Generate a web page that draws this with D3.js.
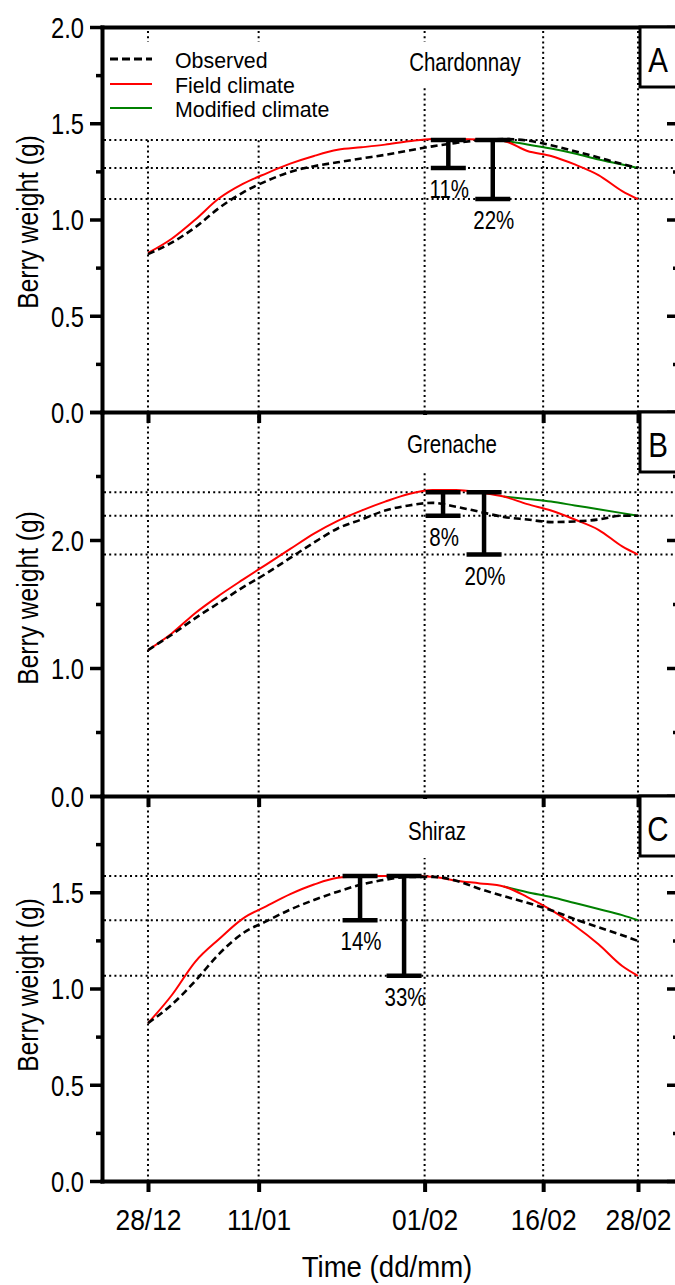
<!DOCTYPE html>
<html><head><meta charset="utf-8">
<script src="https://cdn.jsdelivr.net/npm/d3@7"></script>
<style>
body{margin:0;background:#fff}
svg{display:block}
text{font-family:"Liberation Sans",Arial,Helvetica,sans-serif;fill:#000}
</style>
</head><body><div id="chart"></div>
<script>
// ---------------- DATA ----------------
const dates = ["28/12","31/12","03/01","06/01","09/01","12/01","15/01","18/01","21/01","24/01","27/01","30/01",
               "02/02","05/02","08/02","11/02","14/02","17/02","20/02","23/02","26/02","28/02"];
const tickDates = ["28/12","11/01","01/02","16/02","28/02"];
const xDomain = ["22/12 04:20","05/03 04:30"];
const seriesNames = ["Observed","Field climate","Modified climate"];

// Chardonnay (A)
const chardObserved = [0.82,0.88,0.96,1.06,1.14,1.20,1.247,1.277,1.297,1.317,1.336,1.358,1.38,1.398,1.412,1.418,1.41,1.386,1.355,1.322,1.288,1.268];
const chardField    = [0.826,0.90,1.0,1.11,1.185,1.24,1.29,1.33,1.362,1.375,1.389,1.406,1.418,1.418,1.416,1.408,1.356,1.33,1.286,1.231,1.148,1.106];
const chardModified = [null,null,null,null,null,null,null,null,null,null,null,null,null,null,null,1.408,1.39,1.369,1.343,1.312,1.286,1.268];
const chardRefs = [1.413,1.268,1.106];
const chardBarDates = ["04/02 00:00","09/02 15:00"];
const chardBarLow = [1.268,1.106];
const chardBarHigh = [1.413,1.413];
const chardBarLabels = ["11%","22%"];

// Grenache (B)
const grenObserved = [1.14,1.26,1.39,1.51,1.63,1.74,1.86,1.98,2.09,2.16,2.23,2.27,2.29,2.26,2.22,2.18,2.16,2.14,2.145,2.16,2.19,2.19];
const grenField    = [1.14,1.27,1.43,1.566,1.69,1.81,1.93,2.05,2.15,2.23,2.30,2.36,2.39,2.39,2.37,2.34,2.28,2.23,2.16,2.08,1.95,1.886];
const grenModified = [null,null,null,null,null,null,null,null,null,null,null,null,null,null,null,2.34,2.32,2.30,2.27,2.24,2.21,2.19];
const grenRefs = [2.374,2.19,1.886];
const grenBarDates = ["03/02 08:00","08/02 12:30"];
const grenBarLow = [2.19,1.886];
const grenBarHigh = [2.374,2.374];
const grenBarLabels = ["8%","20%"];

// Shiraz (C)
const shirObserved = [0.82,0.916,1.04,1.18,1.287,1.35,1.41,1.46,1.503,1.54,1.565,1.579,1.58,1.56,1.517,1.48,1.445,1.407,1.36,1.318,1.277,1.247];
const shirField    = [0.82,0.965,1.14,1.257,1.363,1.428,1.49,1.54,1.575,1.583,1.585,1.585,1.58,1.56,1.546,1.53,1.475,1.408,1.326,1.23,1.117,1.066];
const shirModified = [null,null,null,null,null,null,null,null,null,null,null,null,null,null,null,1.53,1.50,1.475,1.444,1.413,1.381,1.355];
const shirRefs = [1.585,1.355,1.066];
const shirBarDates = ["23/01 20:00","29/01 09:40"];
const shirBarLow = [1.355,1.066];
const shirBarHigh = [1.585,1.585];
const shirBarLabels = ["14%","33%"];

// Y ticks
const ticksA = [0,0.5,1,1.5,2], minorA = [0.25,0.75,1.25,1.75];
const ticksB = [0,1,2,3],       minorB = [0.5,1.5,2.5];
const ticksC = [0,0.5,1,1.5,2], minorC = [0.25,0.75,1.25,1.75];
const labelsA = [0,0.5,1,1.5,2], labelsB = [0,1,2], labelsC = [0,0.5,1,1.5];

// ---------------- HELPERS ----------------
function parseDT(s){
  const [dm, hm] = s.split(" ");
  const [d,m] = dm.split("/").map(Number);
  let h=0, mi=0;
  if (hm) [h,mi] = hm.split(":").map(Number);
  return new Date(Date.UTC(m===12?2010:2011, m-1, d, h, mi));
}
const SX = 0.82;
function txt(g, x, y, s, size, anchor, sx, rot){
  sx = sx || SX;
  return g.append("text")
    .attr("transform", `translate(${x},${y})${rot?` rotate(${rot})`:""} scale(${sx},1)`)
    .attr("text-anchor", anchor || "start")
    .style("font-size", size+"px")
    .text(s);
}

// ---------------- LAYOUT ----------------
const W = 675, H = 1285;
const LEFT = 102, RIGHT = 679;
const svg = d3.select("#chart").append("svg").attr("width", W).attr("height", H);

const x = d3.scaleUtc().domain(xDomain.map(parseDT)).range([LEFT, RIGHT]);
const dateObjs = dates.map(parseDT);
const tickObjs = tickDates.map(parseDT);

const panels = [
  {name:"Chardonnay", letter:"A", top:27, bottom:412, max:2, ticks:ticksA, minor:minorA, labels:labelsA,
   obs:chardObserved, field:chardField, mod:chardModified, refs:chardRefs,
   bd:chardBarDates, bl:chardBarLow, bh:chardBarHigh, blab:chardBarLabels,
   nameX:465, nameY:71, nameBox:[398,42,137,46], titleY:222, legend:true},
  {name:"Grenache", letter:"B", top:412, bottom:796, max:3, ticks:ticksB, minor:minorB, labels:labelsB,
   obs:grenObserved, field:grenField, mod:grenModified, refs:grenRefs,
   bd:grenBarDates, bl:grenBarLow, bh:grenBarHigh, blab:grenBarLabels,
   nameX:452, nameY:453, nameBox:[395,415,120,56], titleY:598, legend:false},
  {name:"Shiraz", letter:"C", top:796, bottom:1181, max:2, ticks:ticksC, minor:minorC, labels:labelsC,
   obs:shirObserved, field:shirField, mod:shirModified, refs:shirRefs,
   bd:shirBarDates, bl:shirBarLow, bh:shirBarHigh, blab:shirBarLabels,
   nameX:437, nameY:840, nameBox:[385,799,105,59], titleY:985, legend:false}
];

const dotted = "2,3.2";

panels.forEach((p, pi) => {
  const y = d3.scaleLinear().domain([0, p.max]).range([p.bottom, p.top]);
  const g = svg.append("g");

  // horizontal reference lines
  g.selectAll(".href").data(p.refs).join("line")
    .attr("x1", LEFT+2).attr("x2", RIGHT)
    .attr("y1", d => y(d)).attr("y2", d => y(d))
    .attr("stroke", "#000").attr("stroke-width", 2).attr("stroke-dasharray", dotted);

  // vertical date grid lines
  g.selectAll(".vref").data(tickObjs).join("line")
    .attr("x1", d => x(d)).attr("x2", d => x(d))
    .attr("y1", p.top + 4).attr("y2", p.bottom)
    .attr("stroke", "#000").attr("stroke-width", 2).attr("stroke-dasharray", dotted);

  // white boxes behind legend & name
  if (p.legend) g.append("rect").attr("x", LEFT+2).attr("y", 42).attr("width", 270).attr("height", 96).attr("fill", "#fff");
  g.append("rect").attr("x", p.nameBox[0]).attr("y", p.nameBox[1]).attr("width", p.nameBox[2]).attr("height", p.nameBox[3]).attr("fill", "#fff");

  // curves
  const line = d3.line()
    .defined(d => d[1] != null)
    .x(d => x(d[0])).y(d => y(d[1]))
    .curve(d3.curveMonotoneX);
  const mk = arr => dateObjs.map((d,i) => [d, arr[i]]);
  g.append("path").attr("d", line(mk(p.mod))).attr("fill","none").attr("stroke","#008000").attr("stroke-width",2);
  g.append("path").attr("d", line(mk(p.field))).attr("fill","none").attr("stroke","#ff0000").attr("stroke-width",2);
  g.append("path").attr("d", line(mk(p.obs))).attr("fill","none").attr("stroke","#000").attr("stroke-width",2.6).attr("stroke-dasharray","7,4");

  // error bars
  p.bd.forEach((ds, i) => {
    const bx = x(parseDT(ds));
    const y1 = y(p.bh[i]), y2 = y(p.bl[i]);
    g.append("line").attr("x1", bx).attr("x2", bx).attr("y1", y1).attr("y2", y2).attr("stroke","#000").attr("stroke-width",4.5);
    [y1, y2].forEach(yy => g.append("line").attr("x1", bx-17.5).attr("x2", bx+17.5).attr("y1", yy).attr("y2", yy).attr("stroke","#000").attr("stroke-width",4.5));
    txt(g, bx + 1, y2 + 30, p.blab[i], 25, "middle");
  });

  // cultivar name
  txt(g, p.nameX, p.nameY, p.name, 25, "middle");

  // legend
  if (p.legend) {
    const ly = [59, 84, 108];
    const cols = ["#000", "#ff0000", "#008000"];
    seriesNames.forEach((s, i) => {
      const l = g.append("line").attr("x1", 110).attr("x2", 152).attr("y1", ly[i]).attr("y2", ly[i])
        .attr("stroke", cols[i]).attr("stroke-width", i===0 ? 3 : 2);
      if (i===0) l.attr("stroke-dasharray", "8,4");
      txt(g, 175, ly[i] + 8.5, s, 22.5, "start", 0.95);
    });
  }

  // left axis
  const yAxis = d3.axisLeft(y).tickValues(p.ticks).tickSize(12).tickSizeOuter(0)
    .tickFormat(d => p.labels.includes(d) ? d3.format(".1f")(d) : "");
  const ga = svg.append("g").attr("transform", `translate(${LEFT},0)`).call(yAxis);
  ga.select(".domain").attr("stroke-width", 4).attr("stroke-linecap","square");
  ga.selectAll(".tick line").attr("stroke-width", 3.5);
  ga.selectAll(".tick text").attr("x", -18/0.82).attr("transform","scale(0.82,1)")
    .attr("dy","0.36em").style("font-size","29px").style("font-family",null);
  const yMinor = d3.axisLeft(y).tickValues(p.minor).tickSize(6).tickFormat("");
  const gm = svg.append("g").attr("transform", `translate(${LEFT},0)`).call(yMinor);
  gm.select(".domain").remove();
  gm.selectAll(".tick line").attr("stroke-width", 3.5);

  // right axis (ticks pointing inward)
  const gr = svg.append("g").attr("transform", `translate(${RIGHT},0)`)
    .call(d3.axisRight(y).tickValues(p.ticks).tickSize(-12).tickFormat(""));
  gr.selectAll(".tick line").attr("stroke-width", 3.5);
  const gr2 = svg.append("g").attr("transform", `translate(${RIGHT},0)`)
    .call(d3.axisRight(y).tickValues(p.minor).tickSize(-6).tickFormat(""));
  gr2.select(".domain").remove();
  gr2.selectAll(".tick line").attr("stroke-width", 3.5);

  // bottom axis of panel
  const isLast = pi === panels.length - 1;
  const xAxis = d3.axisBottom(x).tickValues(tickObjs).tickSize(11).tickSizeOuter(0)
    .tickFormat(isLast ? d3.utcFormat("%d/%m") : "");
  const gx = svg.append("g").attr("transform", `translate(0,${p.bottom})`).call(xAxis);
  gx.select(".domain").attr("stroke-width", 4).attr("stroke-linecap","square");
  gx.selectAll(".tick line").attr("stroke-width", 4);
  if (isLast) {
    gx.selectAll(".tick text").attr("y", 0).attr("dy", 0)
      .attr("transform", "translate(0,49) scale(0.88,1)")
      .style("font-size","30px").style("font-family",null);
  }

  // top frame line for first panel
  if (pi === 0) {
    svg.append("g").attr("transform", `translate(0,${p.top})`)
      .call(d3.axisTop(x).tickValues([]).tickSizeOuter(0))
      .select(".domain").attr("stroke-width", 4).attr("stroke-linecap","square");
  }

  // y axis title
  txt(svg, 38, p.titleY, "Berry weight (g)", 30, "middle", 0.82, -90);

  // panel letter box
  svg.append("rect").attr("x", 640).attr("y", p.top).attr("width", 70).attr("height", 60)
    .attr("fill", "#fff").attr("stroke", "#000").attr("stroke-width", 3);
  txt(svg, 658, p.top + 45, p.letter, 36, "middle");
});

// x axis title
txt(svg, 387, 1277, "Time (dd/mm)", 30, "middle", 0.92);
</script>
</body></html>
